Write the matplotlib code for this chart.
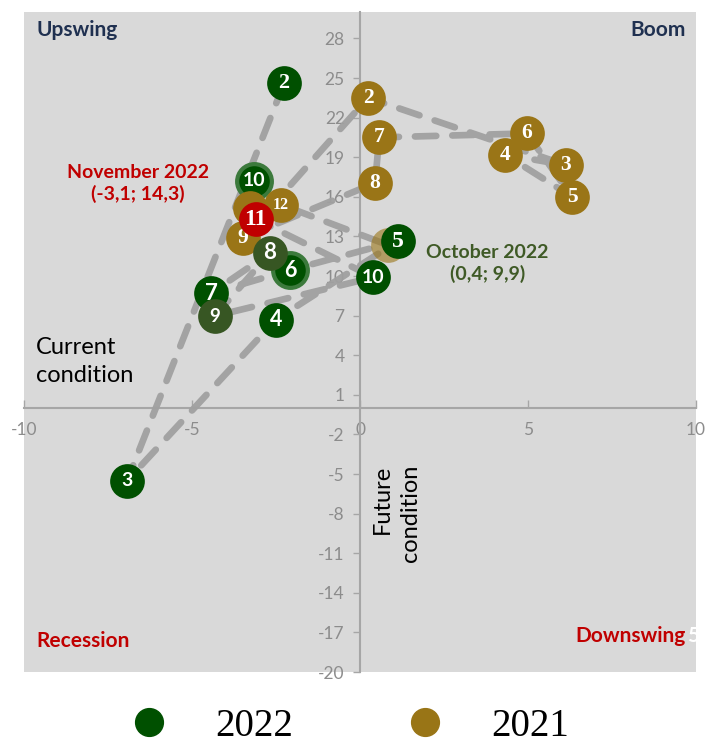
import matplotlib.pyplot as plt
from matplotlib.lines import Line2D

plt.rcParams['axes.unicode_minus'] = False

# business cycle clock: x = future condition, y = current condition
months_2021 = [1, 2, 3, 4, 5, 6, 7, 8, 9, 10, 11, 12]
x_2021 = [-2.8, 0.24, 6.13, 4.32, 6.31, 4.97, 0.57, 0.45, -3.48, -3.15, -3.27, -2.35]
y_2021 = [14.8, 23.5, 18.4, 19.2, 16.0, 20.8, 20.5, 17.05, 12.9, 17.2, 15.15, 15.4]

months_2022 = [1, 2, 3, 4, 5, 6, 7, 8, 9, 10, 11]
x_2022 = [0.83, -2.26, -6.93, -2.5, 1.13, -2.08, -4.43, -2.68, -4.32, 0.4, -3.1]
y_2022 = [12.35, 24.6, -5.5, 6.7, 12.65, 10.45, 8.7, 11.75, 6.97, 9.9, 14.3]

x_ticks = [-10, -5, 0, 5, 10]
y_ticks = list(range(-20, 29, 3))

GREEN = '#005000'
OLIVE = '#375623'
GOLD = '#9A7517'
RED = '#C00000'
LINE = '#A0A0A0'

fig = plt.figure(figsize=(7.19, 7.47), dpi=100)
ax = fig.add_axes([0.0334, 0.1004, 0.9346, 0.8835])
ax.set_facecolor('#D9D9D9')
ax.set_xlim(-10, 10)
ax.set_ylim(-20, 30)
ax.set_axisbelow(True)

for s in ['top', 'right']:
    ax.spines[s].set_visible(False)
ax.spines['left'].set_position(('data', 0))
ax.spines['bottom'].set_position(('data', 0))
for s in ['left', 'bottom']:
    ax.spines[s].set_color('#A6A6A6')
    ax.spines[s].set_linewidth(1.5)

ax.set_xticks(x_ticks)
ax.set_yticks(y_ticks)
ax.tick_params(axis='both', colors='#A6A6A6', labelcolor='#8C8C8C', labelsize=12.5, width=1)
ax.tick_params(axis='x', direction='in', length=6, pad=10)
ax.tick_params(axis='y', direction='out', length=5, pad=6)
for lab in ax.get_xticklabels() + ax.get_yticklabels():
    lab.set_family('Lato')

# dashed path lines
dash = dict(color=LINE, lw=4.8, ls=(0, (3.2, 2.4)), dash_capstyle='round',
            alpha=0.95, zorder=3)
ax.plot(x_2021 + [x_2022[0]], y_2021 + [y_2022[0]], **dash)
ax.plot(x_2022[1:], y_2022[1:], **dash)

def bubble(x, y, label, face, edge=None, size=15.5, family='Liberation Serif', alpha=1.0, z=5, lw=0):
    ax.plot([x], [y], 'o', ms=25, mfc=face, mec=edge if edge else face, mew=lw,
            alpha=alpha, zorder=z)
    if label:
        ax.text(x, y, label, color='white', fontsize=size, fontweight='bold',
                family=family, ha='center', va='center', zorder=z + 0.01)

# 2021 markers (January hidden under the cluster)
order_2021 = [2, 3, 5, 6, 4, 7, 8, 10, 11, 12, 9]
zz = 5
for m in order_2021:
    i = months_2021.index(m)
    if m == 10:
        bubble(x_2021[i], y_2021[i], '10', GREEN, edge='#3C7A3C', size=14, family='Lato',
               z=zz, lw=3)
    elif m == 12:
        bubble(x_2021[i], y_2021[i], '12', GOLD, size=11.5, z=zz)
    elif m == 11:
        bubble(x_2021[i], y_2021[i], '', GOLD, z=zz)
    else:
        bubble(x_2021[i], y_2021[i], str(m), GOLD, z=zz)
    zz += 0.1

# January 2022 (faded)
bubble(x_2022[0], y_2022[0], '', GOLD, alpha=0.6, z=zz)
zz += 0.1

styles_2022 = {
    2: (GREEN, None, 'Liberation Serif', 16),
    3: (GREEN, None, 'Lato', 14),
    4: (GREEN, None, 'Lato', 15.5),
    5: (GREEN, None, 'Liberation Serif', 17),
    6: (GREEN, '#3C7A3C', 'Lato', 15.5),
    7: (GREEN, None, 'Lato', 16),
    8: (OLIVE, None, 'Lato', 16),
    9: (OLIVE, None, 'Lato', 13.5),
    10: (GREEN, None, 'Lato', 14),
}
for m in months_2022[1:-1]:
    i = months_2022.index(m)
    face, edge, fam, sz = styles_2022[m]
    bubble(x_2022[i], y_2022[i], str(m), face, edge=edge, size=sz, family=fam, z=zz,
           lw=3 if edge else 0)
    zz += 0.1
bubble(x_2022[-1], y_2022[-1], '11', RED, size=17, z=zz + 1)

# quadrant labels
qa = dict(transform=ax.transAxes, fontsize=15, fontweight='bold', family='Lato')
ax.text(0.019, 0.988, 'Upswing', color='#1F3050', ha='left', va='top', **qa)
ax.text(0.985, 0.988, 'Boom', color='#1F3050', ha='right', va='top', **qa)
ax.text(0.019, 0.047, 'Recession', color=RED, ha='left', va='center', **qa)
ax.text(0.985, 0.055, 'Downswing', color=RED, ha='right', va='center', **qa)
ax.text(0.987, 0.055, '5', color='white', ha='left', va='center', clip_on=True, **qa)

# axis titles
ax.text(-9.65, 3.5, 'Current\ncondition', fontsize=17, family='Lato', color='black',
        ha='left', va='center', linespacing=1.4)
ax.text(0.68, -4.3, 'Future', fontsize=17, family='Lato', color='black',
        ha='center', va='top', rotation=90)
ax.text(1.5, -4.3, 'condition', fontsize=17, family='Lato', color='black',
        ha='center', va='top', rotation=90)

# callouts
ax.text(-6.6, 17.0, 'November 2022\n(-3,1; 14,3)', color=RED, fontsize=14, fontweight='bold',
        family='Lato', ha='center', va='center', linespacing=1.3)
ax.text(3.8, 10.95, 'October 2022\n(0,4; 9,9)', color='#3F5A26', fontsize=14,
        fontweight='bold', family='Lato', ha='center', va='center', linespacing=1.3)

handles = [Line2D([], [], ls='none', marker='o', ms=20, mfc=GREEN, mec=GREEN),
           Line2D([], [], ls='none', marker='o', ms=20, mfc='#997516', mec='#997516')]
fig.legend(handles, ['2022', '2021'], loc='center', bbox_to_anchor=(0.472, 0.028),
           ncol=2, frameon=False, prop={'family': 'Liberation Serif', 'size': 28},
           handletextpad=0.7, columnspacing=2.4)

fig.savefig('out.png', dpi=100)
